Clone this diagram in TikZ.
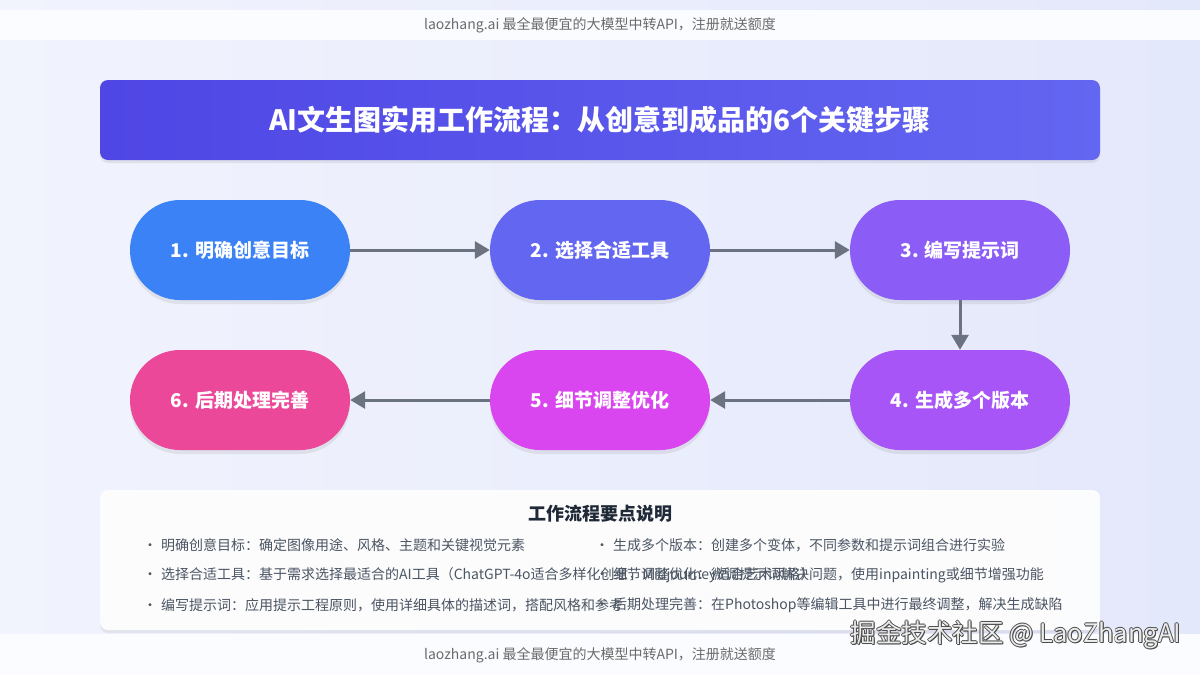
\documentclass[tikz,border=0pt]{standalone}
\usepackage{fontspec}
\setmainfont{Noto Sans CJK SC}
\usetikzlibrary{arrows.meta,shadows}
\definecolor{bgL}{HTML}{F1F3FD}
\definecolor{bgR}{HTML}{E4E8FB}
\definecolor{band}{HTML}{FBFCFF}
\definecolor{hdrtxt}{HTML}{6B6B6B}
\definecolor{tA}{HTML}{4F46E5}
\definecolor{tB}{HTML}{6366F1}
\definecolor{cOne}{HTML}{3B82F6}
\definecolor{cTwo}{HTML}{6366F1}
\definecolor{cThree}{HTML}{8B5CF6}
\definecolor{cFour}{HTML}{A855F7}
\definecolor{cFive}{HTML}{D946EF}
\definecolor{cSix}{HTML}{EC4899}
\definecolor{arr}{HTML}{6B7280}
\definecolor{notetxt}{HTML}{4B5563}
\definecolor{notehead}{HTML}{1F2937}
\tikzset{
  hdr/.style={text=hdrtxt, font=\fontsize{14}{16}\selectfont, inner sep=0pt},
  titlebox/.style={minimum width=1000pt, minimum height=80pt, rounded corners=8pt,
    left color=tA, right color=tB, text=white, font=\bfseries\fontsize{28}{31}\selectfont,
    drop shadow={opacity=0.15, shadow xshift=0pt, shadow yshift=-3pt}},
  stepbox/.style={minimum width=220pt, minimum height=100pt, rounded corners=50pt,
    inner sep=0pt, text=white, font=\bfseries\fontsize{19}{21}\selectfont,
    drop shadow={opacity=0.15, shadow xshift=0pt, shadow yshift=-4pt}},
  flow/.style={draw=arr, line width=3pt, -{Triangle[length=15pt,width=17pt]}},
  notebox/.style={minimum width=1000pt, minimum height=140pt, rounded corners=8pt,
    fill=white, fill opacity=0.92, draw=none,
    drop shadow={opacity=0.12, shadow xshift=0pt, shadow yshift=-3pt}},
  notehd/.style={text=notehead, font=\bfseries\fontsize{18}{20}\selectfont, inner sep=0pt},
  noteitem/.style={anchor=west, text=notetxt, font=\fontsize{14}{16}\selectfont, inner sep=0pt},
  wm/.style={font=\fontsize{25.5}{27}\selectfont, inner sep=0pt}
}
\begin{document}
\begin{tikzpicture}[x=1pt,y=-1pt]
\useasboundingbox (0,0) rectangle (1200,675);
\shade[left color=bgL, right color=bgR] (0,0) rectangle (1200,675);
% header band
\fill[band] (0,10) rectangle (1200,40);
\node[hdr] (hdr) at (600,25) {laozhang.ai 最全最便宜的大模型中转API，注册就送额度};
% title
\node[titlebox] (title) at (600,120) {AI文生图实用工作流程：从创意到成品的6个关键步骤};
% steps
\node[stepbox, fill=cOne] (s1) at (240,250) {1. 明确创意目标};
\node[stepbox, fill=cTwo] (s2) at (600,250) {2. 选择合适工具};
\node[stepbox, fill=cThree] (s3) at (960,250) {3. 编写提示词};
\node[stepbox, fill=cFour] (s4) at (960,400) {4. 生成多个版本};
\node[stepbox, fill=cFive] (s5) at (600,400) {5. 细节调整优化};
\node[stepbox, fill=cSix] (s6) at (240,400) {6. 后期处理完善};
\draw[flow] (s1.east) -- (s2.west);
\draw[flow] (s2.east) -- (s3.west);
\draw[flow] (s3.south) -- (s4.north);
\draw[flow] (s4.west) -- (s5.east);
\draw[flow] (s5.west) -- (s6.east);
% footer band
\fill[band] (0,634) rectangle (1200,675);
% notes
\node[notebox] (notes) at (600,560) {};
\node[notehd] (nh) at (600,514) {工作流程要点说明};
\node[noteitem] (n1) at (143,545) {•\hspace{4pt}明确创意目标：确定图像用途、风格、主题和关键视觉元素};
\node[noteitem] (n2) at (143,575) {•\hspace{4pt}选择合适工具：基于需求选择最适合的AI工具（ChatGPT-4o适合多样化创意，Midjourney适合艺术风格）};
\node[noteitem] (n3) at (143,605) {•\hspace{4pt}编写提示词：应用提示工程原则，使用详细具体的描述词，搭配风格和参考};
\node[noteitem] (n4) at (595,545) {•\hspace{4pt}生成多个版本：创建多个变体，不同参数和提示词组合进行实验};
\node[noteitem] (n5) at (595,575) {•\hspace{4pt}细节调整优化：微调提示词解决问题，使用inpainting或细节增强功能};
\node[noteitem] (n6) at (595,605) {•\hspace{4pt}后期处理完善：在Photoshop等编辑工具中进行最终调整，解决生成缺陷};
% footer text
\node[hdr] (ftr) at (600,655) {laozhang.ai 最全最便宜的大模型中转API，注册就送额度};
% watermark
\foreach \dx/\dy in {-0.9/0,0.9/0,0/-0.9,0/0.9,0.8/0.8}{
  \node[wm, text=black!70] at (1016+\dx,635+\dy) {掘金技术社区 @ LaoZhangAI};
}
\node[wm, text=white!92!black] (wmk) at (1016,635) {掘金技术社区 @ LaoZhangAI};
\end{tikzpicture}
\end{document}
